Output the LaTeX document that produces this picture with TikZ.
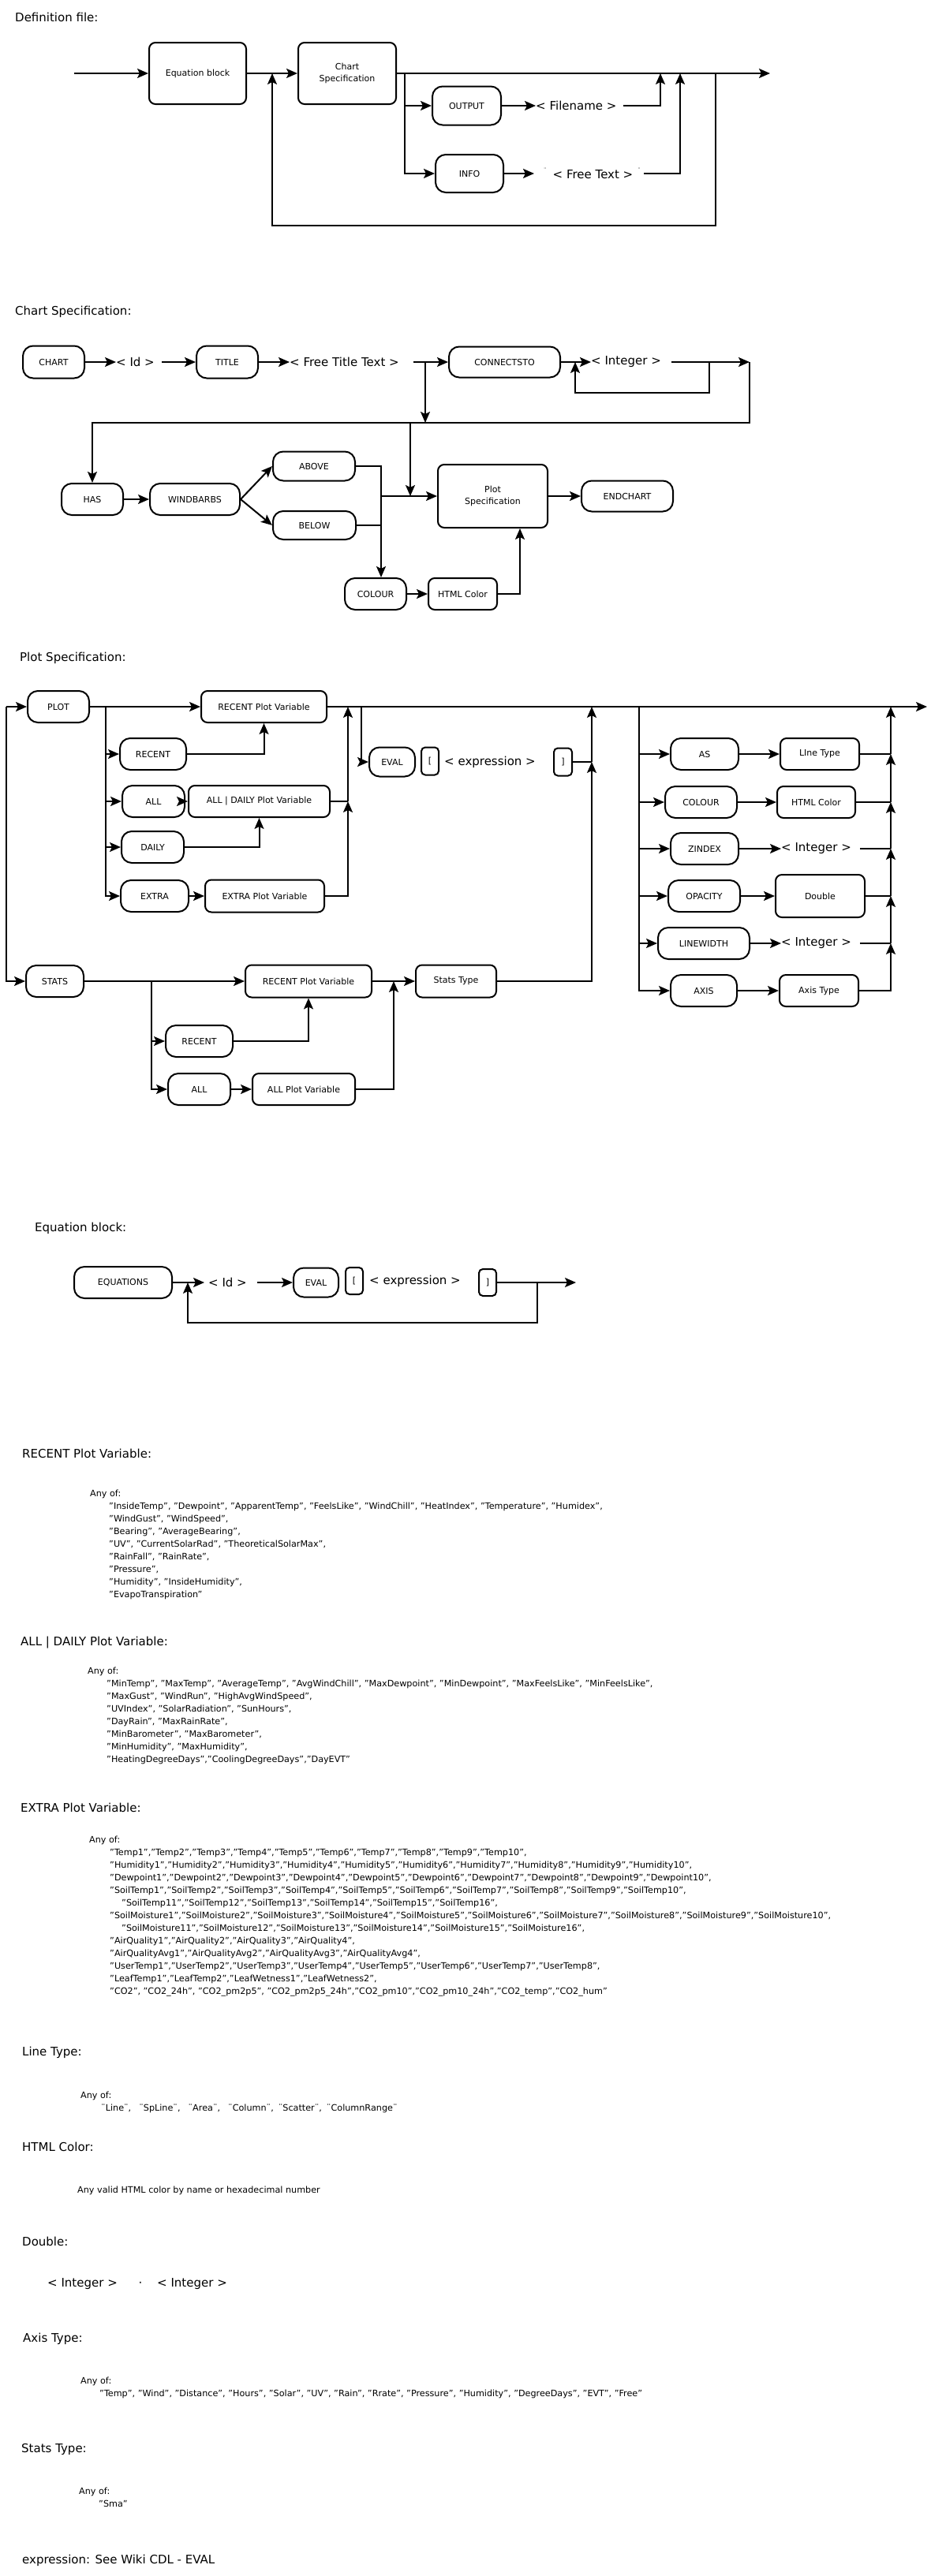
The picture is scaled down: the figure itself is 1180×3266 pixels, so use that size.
\documentclass[tikz,border=0pt]{standalone}
\usepackage{fontspec}
\setmainfont{DejaVu Sans}
\usetikzlibrary{arrows.meta}
\newcommand\fnbox{\fontsize{11}{15}\selectfont}
\newcommand\fnterm{\fontsize{15}{18}\selectfont}
\newcommand\fnttl{\fontsize{15}{18}\selectfont}
\newcommand\fnlst{\fontsize{11.2}{16}\selectfont}
\newcommand\smq{\raisebox{8pt}{\fontsize{7}{7}\selectfont ¨}}
\newcommand\ind{\hspace*{24pt}}
\tikzset{
  ln/.style={line width=2pt},
  arr/.style={line width=2pt,-{Stealth[length=14pt,width=12pt,inset=3pt]}},
  sz/.style 2 args={minimum width=#1pt,minimum height=#2pt},
  kw/.style={draw,line width=2pt,rounded corners=13pt,inner sep=0pt,font=\fnbox,align=center},
  nt/.style={draw,line width=2pt,rounded corners=8pt,inner sep=0pt,font=\fnbox,align=center},
  brk/.style={draw,line width=2pt,rounded corners=5pt,inner sep=0pt,font=\fnbox},
  term/.style={inner sep=0pt,font=\fnterm,anchor=west},
  ttl/.style={anchor=west,inner sep=0pt,font=\fnttl},
  lst/.style={anchor=north west,inner sep=0pt,font=\fnlst,align=left},
}
\begin{document}
\begin{tikzpicture}[x=1pt,y=-1pt]
\useasboundingbox (0,0) rectangle (1180,3266);
\fill[white] (0,0) rectangle (1180,3266);

% ================= Definition file =================
\node[ttl] (tdef) at (19,22) {Definition file:};
\coordinate (dstart) at (94,93);
\node[nt,sz={123}{78}] (eqb) at (250.5,93) {Equation block};
\node[nt,sz={124}{78}] (csp) at (440,93) {Chart\\Specification};
\coordinate (dend) at (976,93);
\node[kw,sz={87}{49}] (output) at (591.5,134) {OUTPUT};
\node[term] (fname) at (679,134) {< Filename >};
\node[kw,sz={86}{48}] (info) at (595,220) {INFO};
\node[term] (ftext) at (689,220) {\smq\hspace{8pt}< Free Text >\hspace{6pt}\smq};
\coordinate (db) at (513,93);
\coordinate (dj1) at (837,93);
\coordinate (dj2) at (862,93);
\coordinate (dl1) at (907,93);
\coordinate (dl2) at (345,93);
\draw[arr] (dstart) -- (eqb.west);
\draw[arr] (eqb.east) -- (csp.west);
\draw[arr] (csp.east) -- (dend);
\draw[arr] (db) |- (output.west);
\draw[arr] (db) |- (info.west);
\draw[arr] (output.east) -- (fname.west);
\draw[arr] (info.east) -- ([xshift=-12pt]ftext.west);
\draw[arr] ([xshift=8pt]fname.east) -| (dj1);
\draw[arr] ([xshift=4pt]ftext.east) -| (dj2);
\draw[arr] (dl1) -- ++(0,193) -| (dl2);

% ================= Chart Specification =================
\node[ttl] (tchart) at (19,395) {Chart Specification:};
\node[kw,sz={78}{41}] (chart) at (68,459) {CHART};
\node[term] (cid) at (147,459) {< Id >};
\node[kw,sz={78}{41}] (title) at (288,459) {TITLE};
\node[term] (ftt) at (367,459) {< Free Title Text >};
\node[kw,sz={141}{39}] (conn) at (639.5,459) {CONNECTSTO};
\node[term] (cint) at (749,459) {< Integer >};
\coordinate (c1) at (950,459);
\coordinate (c2) at (117,536);
\coordinate (cb) at (539,459);
\coordinate (cl) at (899,459);
\coordinate (cl2) at (729,459);
\coordinate (cd) at (520,536);
\coordinate (cd2) at (520,629);
\coordinate (cm) at (483,629);
\node[kw,sz={78}{40}] (has) at (117,633) {HAS};
\node[kw,sz={114}{40}] (wb) at (247,633) {WINDBARBS};
\node[kw,sz={104}{37}] (above) at (398,591) {ABOVE};
\node[kw,sz={105}{36}] (below) at (398.5,666) {BELOW};
\node[nt,sz={139}{80}] (psp) at (624.5,629) {Plot\\Specification};
\node[kw,sz={116}{39}] (endc) at (795,629) {ENDCHART};
\node[kw,sz={78}{40}] (colour) at (476,753) {COLOUR};
\node[nt,sz={87}{40}] (html) at (586.5,753) {HTML Color};
\draw[arr] (chart.east) -- (cid.west);
\draw[arr] ([xshift=9pt]cid.east) -- (title.west);
\draw[arr] (title.east) -- (ftt.west);
\draw[arr] ([xshift=18pt]ftt.east) -- (conn.west);
\draw[arr] (conn.east) -- (cint.west);
\draw[arr] ([xshift=13pt]cint.east) -- (c1);
\draw[arr] (c1) -- (c1 |- c2) -- (c2) -- (has.north);
\draw[arr] (cb) -- (cb |- c2);
\draw[arr] (cl) -- ++(0,39) -| (cl2);
\draw[arr] (cd) -- (cd2);
\draw[arr] (has.east) -- (wb.west);
\draw[arr] (wb.east) -- (above.west);
\draw[arr] (wb.east) -- (below.west);
\draw[ln] (above.east) -| (cm);
\draw[ln] (below.east) -| (cm);
\draw[arr] (cm) -- (psp.west);
\draw[arr] (cm) -- (cm |- colour.north);
\draw[arr] (colour.east) -- (html.west);
\draw[arr] (html.east) -| ([xshift=34.5pt]psp.south);
\draw[arr] (psp.east) -- (endc.west);

% ================= Plot Specification =================
\node[ttl] (tplot) at (25,834) {Plot Specification:};
\coordinate (pr1) at (8,896);
\coordinate (pr2) at (8,1244);
\node[kw,sz={78}{40}] (plot) at (74,896) {PLOT};
\node[nt,sz={159}{40}] (rpv) at (334.5,896) {RECENT Plot Variable};
\node[kw,sz={84}{40}] (recent) at (194,956) {RECENT};
\node[kw,sz={79}{40}] (all) at (194.5,1016) {ALL};
\node[nt,sz={179}{40}] (adpv) at (328.5,1016) {ALL | DAILY Plot Variable};
\node[kw,sz={79}{40}] (daily) at (193.5,1074) {DAILY};
\node[kw,sz={86}{40}] (extra) at (196,1136) {EXTRA};
\node[nt,sz={151}{41}] (epv) at (335.5,1136) {EXTRA Plot Variable};
\node[kw,sz={58}{37}] (eval) at (497,966) {EVAL};
\node[brk,sz={22}{35}] (lbr) at (545,965) {[};
\node[term] (pexpr) at (563,966) {< expression >};
\node[brk,sz={23}{35}] (rbr) at (713.5,966) {]};
\node[kw,sz={73}{40}] (stats) at (69.5,1244) {STATS};
\coordinate (pb1) at (134,896);
\coordinate (pj1) at (441,896);
\coordinate (pj2) at (441,1016);
\coordinate (pb2) at (458,896);
\coordinate (pj3) at (750,966);
\coordinate (pj4) at (750,896);
\coordinate (pend) at (1175,896);
\draw[arr] (pr1) -- (plot.west);
\draw[arr] (pr1) -- (pr2) -- (stats.west);
\draw[arr] (plot.east) -- (rpv.west);
\draw[arr] (pb1) |- (recent.west);
\draw[arr] (pb1) |- (all.west);
\draw[arr] (pb1) |- (daily.west);
\draw[arr] (pb1) |- (extra.west);
\draw[arr] (recent.east) -| (rpv.south);
\draw[arr] (all.east) -- (adpv.west);
\draw[arr] (daily.east) -| (adpv.south);
\draw[arr] (extra.east) -- (epv.west);
\draw[ln] (adpv.east) -- (pj2);
\draw[arr] (epv.east) -| (pj2);
\draw[arr] (pj2) -- (pj1);
\draw[arr] (rpv.east) -- (pend);
\draw[arr] (pb2) |- (eval.west);
\draw[ln] (rbr.east) -- (pj3);
\draw[arr] (pj3) -- (pj4);

\node[nt,sz={160}{41}] (rpv2) at (391,1244) {RECENT Plot Variable};
\node[kw,sz={85}{40}] (recent2) at (252.5,1320) {RECENT};
\node[kw,sz={79}{40}] (all2) at (252.5,1381) {ALL};
\node[nt,sz={130}{40}] (apv) at (385,1381) {ALL Plot Variable};
\node[nt,sz={102}{41}] (stype) at (578,1244) {Stats Type};
\coordinate (sb) at (192,1244);
\coordinate (sj) at (499,1244);
\draw[arr] (stats.east) -- (rpv2.west);
\draw[arr] (sb) |- (recent2.west);
\draw[arr] (sb) |- (all2.west);
\draw[arr] (recent2.east) -| (rpv2.south);
\draw[arr] (all2.east) -- (apv.west);
\draw[arr] (apv.east) -| (sj);
\draw[arr] (rpv2.east) -- (stype.west);
\draw[arr] (stype.east) -| (pj3);

% right part
\coordinate (qr) at (810,896);
\node[kw,sz={86}{40}] (as) at (893,956) {AS};
\node[nt,sz={100}{40}] (ltype) at (1039,956) {LIne Type};
\node[kw,sz={91}{40}] (colour2) at (888.5,1017) {COLOUR};
\node[nt,sz={99}{40}] (html2) at (1034.5,1017) {HTML Color};
\node[kw,sz={86}{40}] (zindex) at (893,1076) {ZINDEX};
\node[term] (zint) at (990,1076) {< Integer >};
\node[kw,sz={91}{40}] (opac) at (892.5,1136) {OPACITY};
\node[nt,sz={113}{54}] (dbl) at (1039.5,1136) {Double};
\node[kw,sz={116}{40}] (lw) at (892,1196) {LINEWIDTH};
\node[term] (lint) at (990,1196) {< Integer >};
\node[kw,sz={84}{40}] (axis) at (892,1256) {AXIS};
\node[nt,sz={100}{40}] (atype) at (1038,1256) {Axis Type};
\coordinate (qj0) at (1129,896);
\coordinate (qj1) at (1129,956);
\coordinate (qj2) at (1129,1017);
\coordinate (qj3) at (1129,1076);
\coordinate (qj4) at (1129,1136);
\coordinate (qj5) at (1129,1196);
\draw[arr] (qr) |- (as.west);
\draw[arr] (qr) |- (colour2.west);
\draw[arr] (qr) |- (zindex.west);
\draw[arr] (qr) |- (opac.west);
\draw[arr] (qr) |- (lw.west);
\draw[arr] (qr) |- (axis.west);
\draw[arr] (as.east) -- (ltype.west);
\draw[arr] (colour2.east) -- (html2.west);
\draw[arr] (zindex.east) -- (zint.west);
\draw[arr] (opac.east) -- (dbl.west);
\draw[arr] (lw.east) -- (lint.west);
\draw[arr] (axis.east) -- (atype.west);
\draw[ln] (ltype.east) -- (qj1);
\draw[ln] (html2.east) -- (qj2);
\draw[ln] ([xshift=11pt]zint.east) -- (qj3);
\draw[ln] (dbl.east) -- (qj4);
\draw[ln] ([xshift=11pt]lint.east) -- (qj5);
\draw[arr] (atype.east) -| (qj5);
\draw[arr] (qj5) -- (qj4);
\draw[arr] (qj4) -- (qj3);
\draw[arr] (qj3) -- (qj2);
\draw[arr] (qj2) -- (qj1);
\draw[arr] (qj1) -- (qj0);

% ================= Equation block =================
\node[ttl] (teq) at (44,1557) {Equation block:};
\node[kw,sz={124}{40}] (eqs) at (156,1626) {EQUATIONS};
\node[term] (eid) at (264,1626) {< Id >};
\node[kw,sz={57}{37}] (eval2) at (400.5,1626) {EVAL};
\node[brk,sz={22}{34}] (lbr2) at (449,1624) {[};
\node[term] (eexpr) at (468,1624) {< expression >};
\node[brk,sz={22}{34}] (rbr2) at (618,1626) {]};
\coordinate (eend) at (730,1626);
\coordinate (el1) at (681,1626);
\coordinate (el2) at (238,1626);
\draw[arr] (eqs.east) -- ([xshift=-5pt]eid.west);
\draw[arr] ([xshift=13pt]eid.east) -- (eval2.west);
\draw[arr] (rbr2.east) -- (eend);
\draw[arr] (el1) -- ++(0,51) -| (el2);

% ================= Text sections =================
\node[ttl] (trpv) at (28,1843) {RECENT Plot Variable:};
\node[lst] (lrpv) at (114,1889) {Any of:\\
\ind"InsideTemp", "Dewpoint", "ApparentTemp", "FeelsLike", "WindChill", "HeatIndex", "Temperature", "Humidex",\\
\ind"WindGust", "WindSpeed",\\
\ind"Bearing", "AverageBearing",\\
\ind"UV", "CurrentSolarRad", "TheoreticalSolarMax",\\
\ind"RainFall", "RainRate",\\
\ind"Pressure",\\
\ind"Humidity", "InsideHumidity",\\
\ind"EvapoTranspiration"};

\node[ttl] (tadpv) at (26,2083) {ALL | DAILY Plot Variable:};
\node[lst] (ladpv) at (111,2114) {Any of:\\
\ind"MinTemp", "MaxTemp", "AverageTemp", "AvgWindChill", "MaxDewpoint", "MinDewpoint", "MaxFeelsLike", "MinFeelsLike",\\
\ind"MaxGust", "WindRun", "HighAvgWindSpeed",\\
\ind"UVIndex", "SolarRadiation", "SunHours",\\
\ind"DayRain", "MaxRainRate",\\
\ind"MinBarometer", "MaxBarometer",\\
\ind"MinHumidity", "MaxHumidity",\\
\ind"HeatingDegreeDays","CoolingDegreeDays","DayEVT"};

\node[ttl] (tepv) at (26,2292) {EXTRA Plot Variable:};
\node[lst] (lepv) at (113,2328) {Any of:\\
\hspace*{26pt}"Temp1","Temp2","Temp3","Temp4","Temp5","Temp6","Temp7","Temp8","Temp9","Temp10",\\
\hspace*{26pt}"Humidity1","Humidity2","Humidity3","Humidity4","Humidity5","Humidity6","Humidity7","Humidity8","Humidity9","Humidity10",\\
\hspace*{26pt}"Dewpoint1","Dewpoint2","Dewpoint3","Dewpoint4","Dewpoint5","Dewpoint6","Dewpoint7","Dewpoint8","Dewpoint9","Dewpoint10",\\
\hspace*{26pt}"SoilTemp1","SoilTemp2","SoilTemp3","SoilTemp4","SoilTemp5","SoilTemp6","SoilTemp7","SoilTemp8","SoilTemp9","SoilTemp10",\\
\hspace*{41pt}"SoilTemp11","SoilTemp12","SoilTemp13","SoilTemp14","SoilTemp15","SoilTemp16",\\
\hspace*{26pt}"SoilMoisture1","SoilMoisture2","SoilMoisture3","SoilMoisture4","SoilMoisture5","SoilMoisture6","SoilMoisture7","SoilMoisture8","SoilMoisture9","SoilMoisture10",\\
\hspace*{41pt}"SoilMoisture11","SoilMoisture12","SoilMoisture13","SoilMoisture14","SoilMoisture15","SoilMoisture16",\\
\hspace*{26pt}"AirQuality1","AirQuality2","AirQuality3","AirQuality4",\\
\hspace*{26pt}"AirQualityAvg1","AirQualityAvg2","AirQualityAvg3","AirQualityAvg4",\\
\hspace*{26pt}"UserTemp1","UserTemp2","UserTemp3","UserTemp4","UserTemp5","UserTemp6","UserTemp7","UserTemp8",\\
\hspace*{26pt}"LeafTemp1","LeafTemp2","LeafWetness1","LeafWetness2",\\
\hspace*{26pt}"CO2", "CO2\_24h", "CO2\_pm2p5", "CO2\_pm2p5\_24h","CO2\_pm10","CO2\_pm10\_24h","CO2\_temp","CO2\_hum"};

\node[ttl] (tlt) at (28,2602) {Line Type:};
\node[lst] (llt) at (102,2652) {Any of:\\
\hspace*{26pt}¨Line¨,\hspace{10pt}¨SpLine¨,\hspace{10pt}¨Area¨,\hspace{10pt}¨Column¨,\hspace{6pt}¨Scatter¨,\hspace{6pt}¨ColumnRange¨};

\node[ttl] (thc) at (28,2722) {HTML Color:};
\node[anchor=west,inner sep=0pt,font=\fnlst] (lhc) at (98,2777) {Any valid HTML color by name or hexadecimal number};

\node[ttl] (tdb) at (28,2842) {Double:};
\node[term] (dint1) at (60,2896) {< Integer >};
\node[inner sep=0pt,font=\fnterm] (ddot) at (178,2896) {·};
\node[term] (dint2) at (199,2896) {< Integer >};

\node[ttl] (tat) at (29,2965) {Axis Type:};
\node[lst] (lat) at (102,3014) {Any of:\\
\ind"Temp", "Wind", "Distance", "Hours", "Solar", "UV", "Rain", "Rrate", "Pressure", "Humidity", "DegreeDays", "EVT", "Free"};

\node[ttl] (tst) at (27,3105) {Stats Type:};
\node[lst] (lst1) at (100,3154) {Any of:\\
\hspace*{25pt}"Sma"};

\node[ttl] (tex) at (28,3246) {expression: See Wiki CDL - EVAL};
\end{tikzpicture}
\end{document}
